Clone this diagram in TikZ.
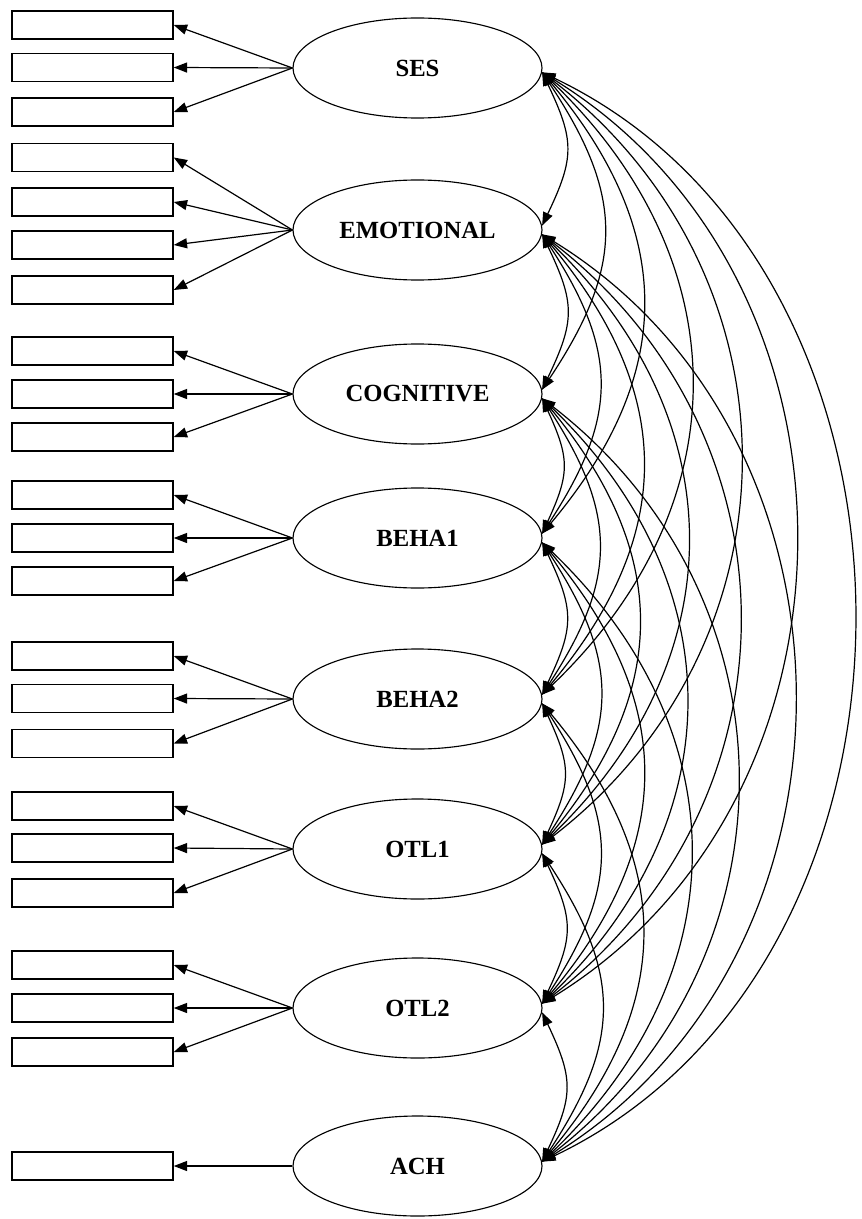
\documentclass[tikz,border=0pt]{standalone}
\usepackage{fontspec}
\setmainfont{Liberation Serif}
\usetikzlibrary{arrows.meta,shapes.geometric}
\begin{document}
\begin{tikzpicture}[x=0.75pt,y=-0.75pt,
  latent/.style={draw, ellipse, minimum width=186.75pt, minimum height=75pt,
    inner sep=0pt, line width=0.85pt, font=\fontsize{18.5}{20}\selectfont\bfseries},
  indicator/.style={draw, rectangle, minimum width=120.75pt, minimum height=21pt,
    inner sep=0pt, line width=1.1pt},
  load/.style={line width=0.9pt, -{Triangle[length=10pt,width=7.5pt]}},
  cov/.style={line width=0.9pt, {Triangle[length=10pt,width=7.5pt]}-{Triangle[length=10pt,width=7.5pt]}},
]
\useasboundingbox (0,0) rectangle (861,1219);

% latent factors
\node[latent] (n1) at (417.5,68)   {SES};
\node[latent] (n2) at (417.5,230)  {EMOTIONAL};
\node[latent] (n3) at (417.5,394)  {COGNITIVE};
\node[latent] (n4) at (417.5,538)  {BEHA1};
\node[latent] (n5) at (417.5,699)  {BEHA2};
\node[latent] (n6) at (417.5,849)  {OTL1};
\node[latent] (n7) at (417.5,1008) {OTL2};
\node[latent] (n8) at (417.5,1166) {ACH};

% observed indicators: factor / y-positions
\foreach \f/\ylist in {1/{25,67.5,112},
                       2/{157.5,202,245,290},
                       3/{351,394,437},
                       4/{495,538,581},
                       5/{656,698.5,743.5},
                       6/{806,848,893},
                       7/{965,1008,1052},
                       8/{1166}} {
  \foreach \yy [count=\m] in \ylist {
    \node[indicator] (b\f-\m) at (92.5,\yy) {};
    \draw[load] (n\f.west) -- (b\f-\m.east);
  }
}

% covariances between all pairs of factors
\def\ys{{68,230,394,538,699,849,1008,1166}}
\foreach \i in {1,...,7} {
  \pgfmathtruncatemacro\ni{\i+1}
  \foreach \j in {\ni,...,8} {
    \pgfmathsetmacro\L{\ys[\j-1]-\ys[\i-1]}
    \pgfmathsetmacro\kk{\j-\i}
    \pgfmathsetmacro\cx{24*((\L/160)^1.33)/0.75}
    \pgfmathsetmacro\ay{\L*(0.42-0.04*(\kk-1))}
    \draw[cov] (n\i.-2) .. controls +(\cx,\ay) and +(\cx,-\ay) .. (n\j.2);
  }
}
\end{tikzpicture}
\end{document}
